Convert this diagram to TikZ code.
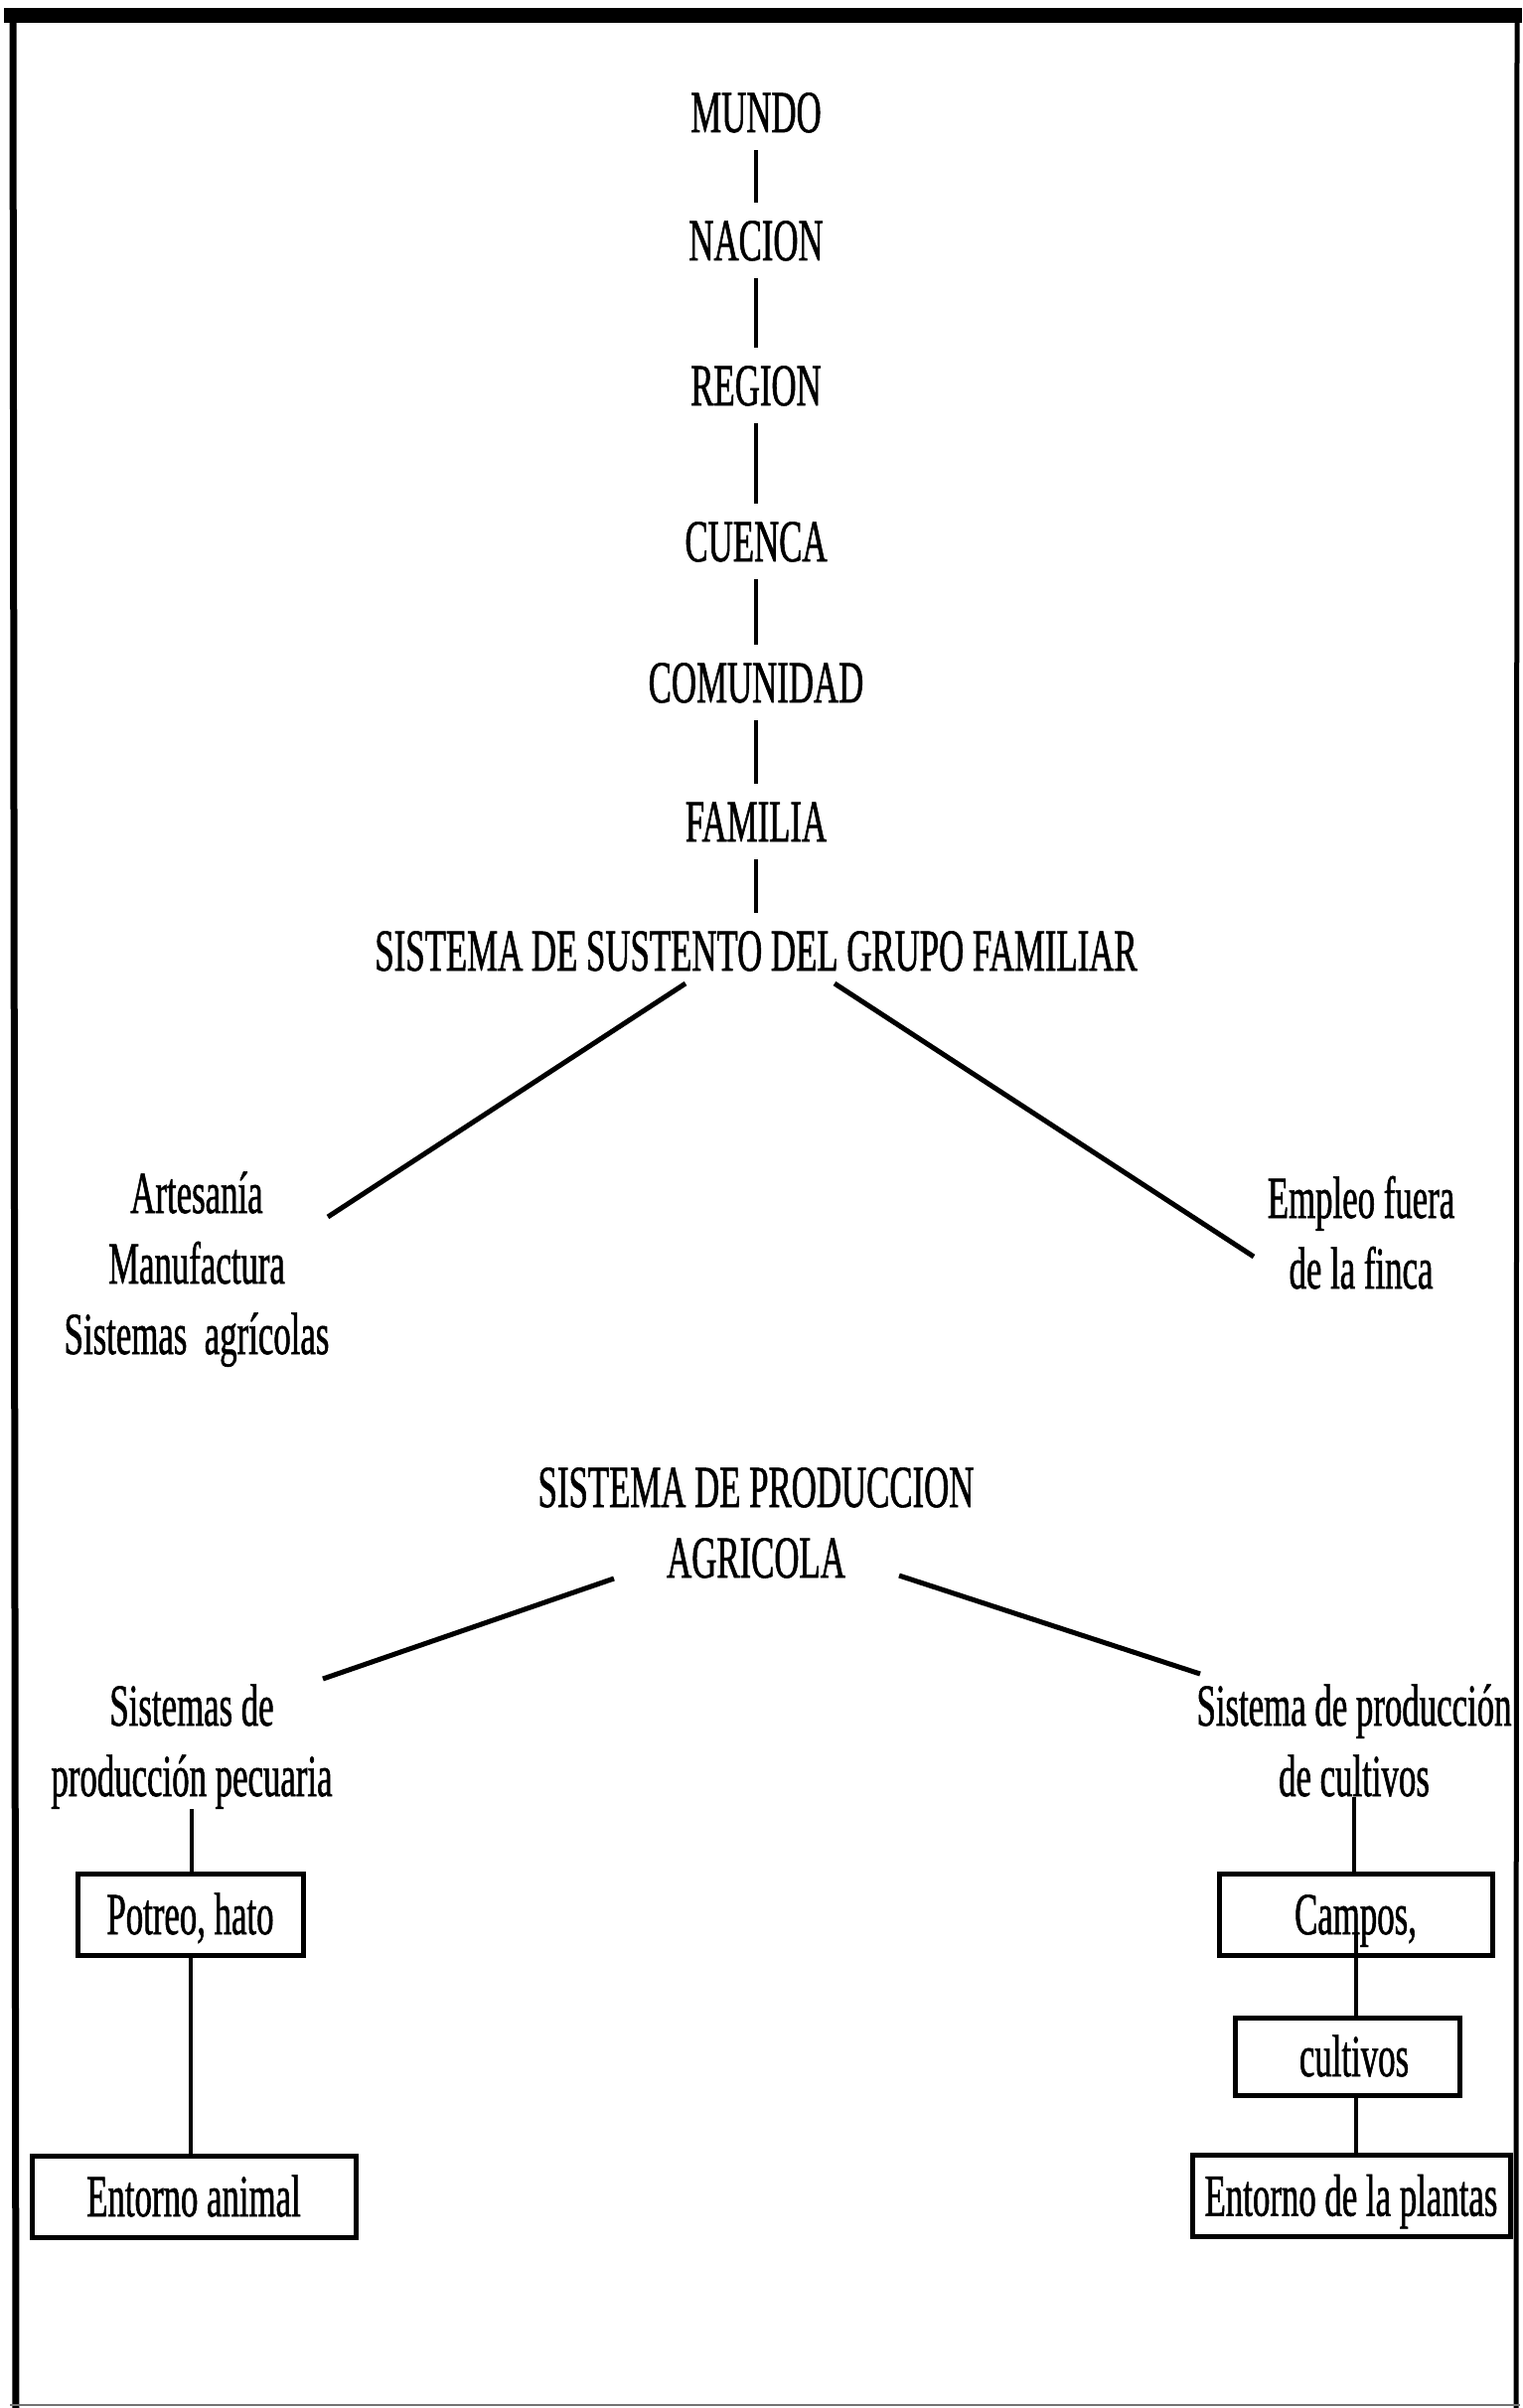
\documentclass[tikz,border=0pt]{standalone}
\usepackage{fontspec}
\setmainfont[FakeStretch=0.58,FakeBold=0.9]{Liberation Serif}
\begin{document}
\begin{tikzpicture}[x=0.5pt,y=-0.5pt,
  lbl/.style={inner sep=0pt, font=\fontsize{30pt}{35.5pt}\selectfont, align=center, anchor=base},
  capn/.style={inner xsep=2pt, inner ysep=9pt, text height=20pt, text depth=0pt, font=\fontsize{30pt}{35.5pt}\selectfont, anchor=base},
  boxn/.style={draw, line width=2.5pt, inner sep=0pt, text height=20pt, text depth=0pt, font=\fontsize{30pt}{35.5pt}\selectfont, minimum height=41pt},
  conn/.style={line width=2pt},
  diag/.style={line width=2.5pt}]
\useasboundingbox (0,0) rectangle (1532,2424);
\fill[white] (0,0) rectangle (1532,2424);
% frame
\draw[line width=7.5pt] (4,15.5) -- (1532,15.5);
\draw[line width=3.5pt] (13,10) -- (16,2424);
\draw[line width=2.5pt] (1527,10) -- (1526,2424);
\draw[line width=1pt, black!55] (10,2421) -- (1530,2421);

% vertical chain
\node[capn] (mundo) at (761,133) {MUNDO};
\node[capn] (nacion) at (761,262) {NACION};
\node[capn] (region) at (761,408) {REGION};
\node[capn] (cuenca) at (761,565) {CUENCA};
\node[capn] (comunidad) at (761,707) {COMUNIDAD};
\node[capn] (familia) at (761,847) {FAMILIA};
\node[capn] (sust) at (761,977) {SISTEMA DE SUSTENTO DEL GRUPO FAMILIAR};
\draw[conn] (mundo.south) -- (nacion.north);
\draw[conn] (nacion.south) -- (region.north);
\draw[conn] (region.south) -- (cuenca.north);
\draw[conn] (cuenca.south) -- (comunidad.north);
\draw[conn] (comunidad.south) -- (familia.north);
\draw[conn] (familia.south) -- (sust.north);

% first split (base anchor = baseline of last line)
\node[lbl] (art) at (198,1363) {Artesanía\\Manufactura\\Sistemas\ \ agrícolas};
\node[lbl] (empleo) at (1370,1297) {Empleo fuera\\de la finca};
\coordinate (d1a) at (690,990);
\coordinate (d1b) at (330,1225);
\coordinate (d2a) at (840,990);
\coordinate (d2b) at (1262,1265);
\draw[diag] (d1a) -- (d1b);
\draw[diag] (d2a) -- (d2b);

% production system
\node[lbl] (prod) at (761,1588) {SISTEMA DE PRODUCCION\\AGRICOLA};
\coordinate (d3a) at (618,1589);
\coordinate (d3b) at (325,1690);
\coordinate (d4a) at (905,1586);
\coordinate (d4b) at (1208,1685);
\draw[diag] (d3a) -- (d3b);
\draw[diag] (d4a) -- (d4b);

\node[lbl] (pec) at (193,1808) {Sistemas de\\producción pecuaria};
\node[lbl] (cul) at (1363,1808) {Sistema de producción\\de cultivos};

% left boxes
\node[boxn, minimum width=113.5pt] (potreo) at (191.5,1927) {Potreo, hato};
\node[boxn, minimum width=163pt] (entanim) at (195,2211) {Entorno animal};
\draw[conn] (pec.south) -- (pec.south |- potreo.north);
\draw[conn] (potreo.south) -- (potreo.south |- entanim.north);

% right boxes
\node[boxn, minimum width=137.5pt] (campos) at (1364.5,1927) {Campos,};
\node[boxn, minimum width=113pt, minimum height=39pt] (cultivos) at (1356,2070) {\hspace*{7pt}cultivos};
\node[boxn, minimum width=160pt] (entpl) at (1360,2210.5) {Entorno de la plantas};
\draw[conn] (cul.south) -- (cul.south |- campos.north);
\draw[conn] ([yshift=12pt]campos.south) -- (campos.south |- cultivos.north);
\draw[conn] (campos.south |- cultivos.south) -- (campos.south |- entpl.north);
\end{tikzpicture}
\end{document}
